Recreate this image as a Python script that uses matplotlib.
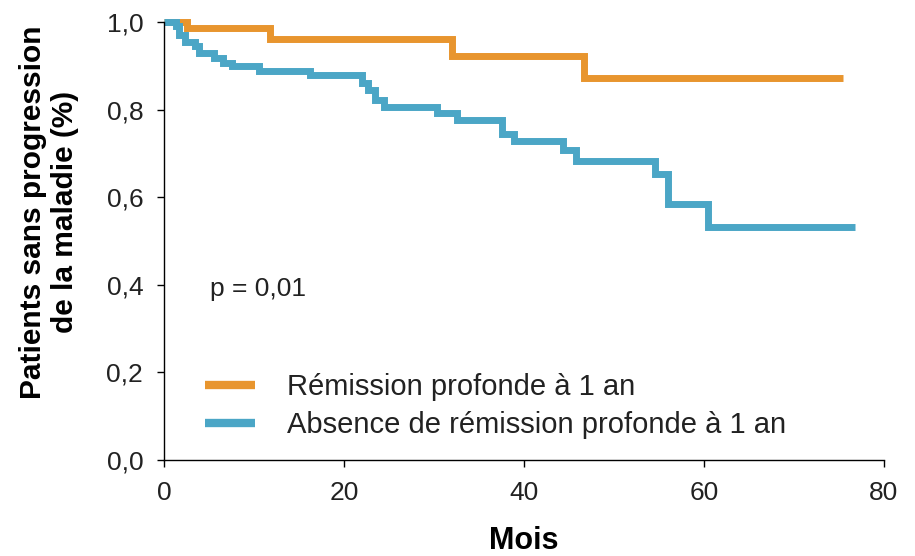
import matplotlib
matplotlib.use("Agg")
import matplotlib.pyplot as plt

plt.rcParams["font.family"] = ["Liberation Sans", "DejaVu Sans"]

# Courbes de Kaplan-Meier
mois_rem = [0, 2.5, 11.8, 32.0, 46.7, 75.4]
surv_rem = [1.0, 0.986, 0.962, 0.922, 0.873, 0.873]

mois_abs = [0, 1.3, 1.7, 2.3, 3.4, 3.9, 5.6, 6.5, 7.6, 10.6, 16.2, 22.0, 22.7,
            23.4, 24.4, 30.3, 32.6, 37.5, 38.9, 44.3, 45.8, 54.6, 56.0, 60.4, 76.8]
surv_abs = [1.0, 0.99, 0.97, 0.955, 0.945, 0.93, 0.917, 0.906, 0.899, 0.888,
            0.878, 0.86, 0.845, 0.822, 0.806, 0.793, 0.777, 0.745, 0.729, 0.708,
            0.683, 0.652, 0.585, 0.531, 0.531]

labels = ["Rémission profonde à 1 an", "Absence de rémission profonde à 1 an"]
x_ticks = [0, 20, 40, 60, 80]
y_ticks = [0.0, 0.2, 0.4, 0.6, 0.8, 1.0]
y_ticklabels = ["0,0", "0,2", "0,4", "0,6", "0,8", "1,0"]

orange = "#E8952E"
blue = "#4BA6C6"

fig = plt.figure(figsize=(9.15, 5.56), dpi=100)
ax = fig.add_axes([164 / 915, 96 / 556, 720 / 915, 438 / 556])

line_kw = dict(where="post", lw=5, solid_capstyle="butt", solid_joinstyle="miter", clip_on=False)
ax.step(mois_rem, surv_rem, color=orange, label=labels[0], **line_kw)
ax.step(mois_abs, surv_abs, color=blue, label=labels[1], **line_kw)

ax.set_xlim(0, 80)
ax.set_ylim(0, 1)
ax.set_xticks(x_ticks)
ax.set_yticks(y_ticks)
ax.set_yticklabels(y_ticklabels)
ax.tick_params(axis="both", direction="out", length=5, width=1, labelsize=19,
               pad=10, colors="black", labelcolor="#222222")

for side in ["top", "right"]:
    ax.spines[side].set_visible(False)
for side in ["left", "bottom"]:
    ax.spines[side].set_linewidth(1)

ax.text(5.1, 0.39, "p = 0,01", fontsize=19, va="center", ha="left", color="#222222")

leg = ax.legend(loc="upper left", bbox_to_anchor=(4.6, 0.198),
                bbox_transform=ax.transData, frameon=False, fontsize=21,
                handlelength=1.7, handletextpad=1.1, labelspacing=0.35,
                borderpad=0, borderaxespad=0)
for t in leg.get_texts():
    t.set_color("#222222")
for h in leg.get_lines():
    h.set_linewidth(6)

fig.text(524 / 915, 1 - 549 / 556, "Mois", fontsize=22, fontweight="bold",
         ha="center", va="baseline")
fig.text(49 / 915, 1 - 212 / 556, "Patients sans progression\nde la maladie (%)",
         fontsize=21.5, fontweight="bold", rotation=90, ha="center", va="center",
         multialignment="center", linespacing=1.15)

plt.savefig("out.png", dpi=100)
